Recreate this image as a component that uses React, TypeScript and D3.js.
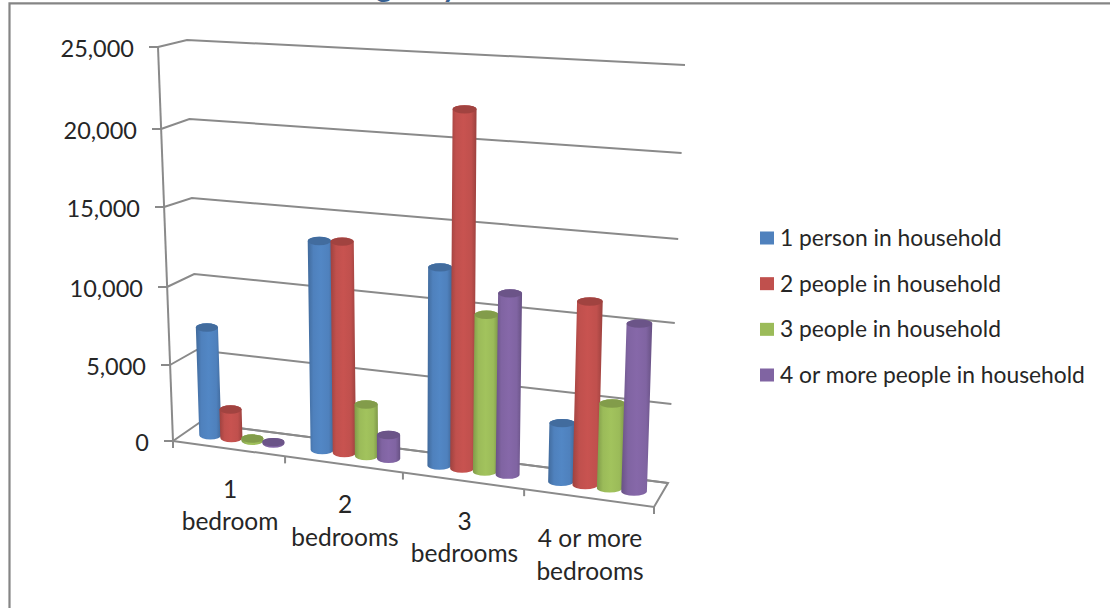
import React from "react";
import * as d3 from "d3";

const categories = [["1", "bedroom"], ["2", "bedrooms"], ["3", "bedrooms"], ["4 or more", "bedrooms"]];
const seriesNames = ["1 person in household", "2 people in household", "3 people in household", "4 or more people in household"];
const onePerson = [7130, 13400, 12500, 3700];
const twoPeople = [1900, 13500, 22100, 11350];
const threePeople = [150, 3350, 9900, 5300];
const fourPeople = [100, 1550, 11350, 10350];
const seriesValues = [onePerson, twoPeople, threePeople, fourPeople];
const yTicks = [0, 5000, 10000, 15000, 20000, 25000];

const baseColors = ["#4F81BD", "#C0504D", "#9BBB59", "#8064A2"];
const gridColor = "#8A8A8A";
const textColor = "#262626";

// Edges of the 3D box, each vertical edge mapped from value to screen.
const edge = (xs: [number, number], ys: number[]) => ({
  x: d3.scaleLinear().domain([0, 25000]).range(xs),
  y: d3.scaleLinear().domain(yTicks).range(ys),
});
const frontLeft = edge([173, 158], [441, 365, 287, 207, 129, 47]);
const backLeft = edge([199, 187], [423, 350, 274, 198, 119, 40]);
const frontRight = edge([654, 666], [507, 425, 342, 256, 168, 78]);
const backRight = edge([668, 685], [483, 404, 323, 239, 153, 65]);

const catT = d3.scaleLinear().domain([0, 1, 2, 3, 4]).range([0, 0.233, 0.478, 0.73, 1]);

function project(c: number, depth: number, v: number): [number, number] {
  const t = catT(c);
  const mix = (k: "x" | "y") => {
    const front = d3.interpolateNumber(frontLeft[k](v), frontRight[k](v))(t);
    const back = d3.interpolateNumber(backLeft[k](v), backRight[k](v))(t);
    return d3.interpolateNumber(front, back)(depth);
  };
  return [mix("x"), mix("y")];
}

const barOffsets = [0.22, 0.41, 0.6, 0.79];
const barHalfWidth = 0.1;
const barDepth = 0.5;

function Cylinder({ cat, s, value }: { cat: number; s: number; value: number }) {
  const c = cat + barOffsets[s];
  const [bx, by] = project(c, barDepth, 0);
  const [tx, ty] = project(c, barDepth, value);
  const [lx] = project(c - barHalfWidth, barDepth, 0);
  const [rx] = project(c + barHalfWidth, barDepth, 0);
  const r = (rx - lx) / 2;
  const ry = 4.2;
  const body = `M${tx - r},${ty} L${bx - r},${by} A${r},${ry} 0 0 0 ${bx + r},${by} L${tx + r},${ty} A${r},${ry} 0 0 0 ${tx - r},${ty} Z`;
  return (
    <g>
      <path d={body} fill={`url(#cyl${s})`} />
      <ellipse cx={tx} cy={ty} rx={r} ry={ry} fill={d3.color(baseColors[s])!.darker(0.5).formatHex()} />
    </g>
  );
}

export default function App() {
  const line = d3.line();
  return (
    <svg
      width={1110}
      height={608}
      style={{ position: "absolute", left: 0, top: 0, background: "#fff", fontFamily: "Lato, 'Open Sans', sans-serif" }}
    >
      <defs>
        {baseColors.map((col, i) => {
          const c = d3.color(col)!;
          return (
            <linearGradient id={`cyl${i}`} key={col} x1="0" x2="1" y1="0" y2="0">
              <stop offset="0" stopColor={c.darker(0.55).formatHex()} />
              <stop offset="0.22" stopColor={c.formatHex()} />
              <stop offset="0.5" stopColor={c.brighter(0.12).formatHex()} />
              <stop offset="0.8" stopColor={c.formatHex()} />
              <stop offset="1" stopColor={c.darker(0.6).formatHex()} />
            </linearGradient>
          );
        })}
      </defs>

      {/* heading above the frame, cut off by the top of the page */}
      <g fontSize={30} fontWeight={700} fill="#376092" textAnchor="middle">
        <text x={384} y={-3}>g</text>
        <text x={450} y={-3}>y</text>
      </g>

      {/* outer chart frame */}
      <path d="M9.5,608 L9.5,3.4 L1110,3.4" fill="none" stroke="#858585" strokeWidth={2.2} />

      {/* wall gridlines, front-left axis and its ticks */}
      {yTicks.map((v) => {
        const p0 = project(0, 0, v);
        const p1 = project(0, 1, v);
        const p2 = project(4, 1, v);
        return (
          <g key={v}>
            <path d={line([p0, p1, p2])!} fill="none" stroke={gridColor} strokeWidth={2} />
            <line x1={p0[0] - 9} y1={p0[1]} x2={p0[0]} y2={p0[1]} stroke={gridColor} strokeWidth={2} />
            <text x={p0[0] - 24} y={p0[1] + 10} textAnchor="end" fontSize={23.5} fill={textColor}>
              {d3.format(",")(v)}
            </text>
          </g>
        );
      })}
      <path d={line([project(0, 0, 0), project(0, 0, 25000)])!} fill="none" stroke={gridColor} strokeWidth={2} />

      {/* floor outline and category ticks */}
      <path
        d={line([project(0, 0, 0), project(4, 0, 0), project(4, 1, 0), project(0, 1, 0)])!}
        fill="none"
        stroke={gridColor}
        strokeWidth={2}
      />
      {[0, 1, 2, 3, 4].map((c) => {
        const [x, y] = project(c, 0, 0);
        return <line key={c} x1={x} y1={y} x2={x} y2={y + 7} stroke={gridColor} strokeWidth={2} />;
      })}

      {/* cylinders */}
      {categories.map((_, cat) => seriesValues.map((vals, s) => <Cylinder key={`${cat}-${s}`} cat={cat} s={s} value={vals[cat]} />))}

      {/* category labels */}
      {categories.map((lines, cat) => {
        const [x, y] = project(cat + 0.5, 0, 0);
        return (
          <text key={cat} textAnchor="middle" fontSize={24.5} fill={textColor}>
            {lines.map((l, i) => (
              <tspan key={l} x={x + 1} y={y + 49 + i * 32.5}>
                {l}
              </tspan>
            ))}
          </text>
        );
      })}

      {/* legend */}
      {seriesNames.map((name, i) => {
        const y = d3.scaleLinear().domain([0, 3]).range([238, 375])(i);
        return (
          <g key={name}>
            <rect x={760} y={y - 6.5} width={14} height={13} fill={baseColors[i]} />
            <text x={780} y={y + 8} fontSize={22.8} fill={textColor}>
              {name}
            </text>
          </g>
        );
      })}
    </svg>
  );
}
